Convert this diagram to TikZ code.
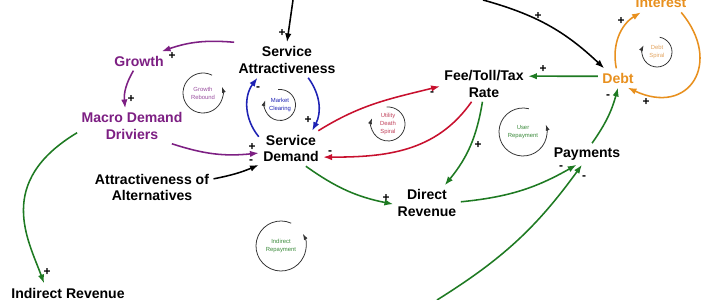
\documentclass[tikz,border=0pt]{standalone}
\usepackage{fontspec}
\setmainfont{Liberation Sans}
\usepackage{tikz}
\usetikzlibrary{arrows.meta,calc}
\definecolor{plum}{HTML}{7D1F83}
\definecolor{plumpale}{HTML}{9A4FA0}
\definecolor{royal}{HTML}{1E22B4}
\definecolor{crimson}{HTML}{C8102E}
\definecolor{crimsonpale}{HTML}{C0405A}
\definecolor{forest}{HTML}{1E7A22}
\definecolor{forestpale}{HTML}{3A8A3A}
\definecolor{ochre}{HTML}{E8901E}
\definecolor{ochrepale}{HTML}{E3A45F}
\definecolor{loopgray}{HTML}{333333}
\tikzset{
  >={Latex[length=2.2mm,width=1.6mm]},
  var/.style={font=\bfseries\fontsize{10}{11.5}\selectfont, align=center, inner sep=3pt},
  sign/.style={font=\bfseries\fontsize{8.5}{8.5}\selectfont, inner sep=0pt},
  link/.style={->, line width=1.1pt},
  looptext/.style={font=\fontsize{4.2}{5.8}\selectfont, align=center, inner sep=0pt},
  loopline/.style={-{Latex[length=1.5mm,width=1mm]}, line width=.55pt, color=loopgray}
}
\begin{document}
\begin{tikzpicture}[x=0.025cm,y=0.025cm]
  \useasboundingbox[fill=white] (0,-300) rectangle (710,0);

  % variables
  \node[var] (sa) at (287,-60) {Service\\Attractiveness};
  \node[var,text=plum] (growth) at (139,-61) {Growth};
  \node[var,text=plum] (macro) at (132,-126) {Macro Demand\\Driviers};
  \node[var] (sd) at (291,-148.5) {Service\\Demand};
  \node[var] (alt) at (152,-187.5) {Attractiveness of\\Alternatives};
  \node[var] (inrev) at (68,-293) {Indirect Revenue};
  \node[var] (fee) at (484,-84) {Fee/Toll/Tax\\Rate};
  \node[var,text=ochre] (debt) at (618,-78) {Debt};
  \node[var,text=ochre] (interest) at (661,-3) {Interest};
  \node[var] (pay) at (587,-154) {Payments};
  \node[var] (dirrev) at (427,-203) {Direct\\Revenue};

  % free ends at the picture border
  \coordinate (srcA) at (293,0);
  \coordinate (srcB) at (483,0);
  \coordinate (srcC) at (437,-300);

  % links
  \draw[link] (srcA) -- (sa.north);
  \draw[link] (srcB) to[bend left=14] (debt.145);
  \draw[link,plum] (sa.north west) to[bend right=12] (growth.23);
  \draw[link,plum] (growth.240) to[bend right=18] (macro.111);
  \draw[link,plum] (macro.336) to[bend right=12] (sd.188);
  \draw[link,forest] (macro.187) to[out=211,in=110,out looseness=1.6,in looseness=.76] (inrev.158);
  \draw[link] (alt.8) to[bend right=6] (sd.207);
  \draw[link,royal] (sd.160) to[bend left=38] (sa.211);
  \draw[link,royal] (sa.320) to[bend left=32] (sd.40);
  \draw[link,crimson] (sd.33) to[out=32,in=194] (fee.183);
  \draw[link,crimson] (fee.235) to[out=235,in=0] (sd.345);
  \draw[link,forest] (sd.310) to[bend right=12] (dirrev.182);
  \draw[link,forest] (fee.265) to[bend left=15] (dirrev.45);
  \draw[link,forest] (dirrev.2) to[bend right=12] (pay.226);
  \draw[link,forest] (srcC) to[bend right=11] (pay.245);
  \draw[link,forest] (pay.65) to[bend right=10] (debt.south);
  \draw[link,forest] (debt.175) -- (fee.10);
  \draw[link,ochre] (debt.100) to[bend left=35] (interest.205);
  \draw[link,ochre] (interest.335) to[out=-50,in=-25,out looseness=1.8,in looseness=1.9] (debt.315);

  % polarities
  \foreach \i/\x/\y/\s in {1/282/33/+, 2/538/16/+, 3/172/56/+, 4/131/99/+, 5/252/147/+,
      6/47/272/+, 7/251/162/-, 8/258/89/-, 9/308/120/+, 10/432/94/-, 11/330/153/-,
      12/386/198/+, 13/478/145/+, 14/561/168/-, 15/584/178/-, 16/608/97/-,
      17/543/69/+, 18/621/21/+, 19/646/102/+}
    \node[sign] (s\i) at (\x,-\y) {\s};

  % loop markers
  \foreach \n/\x/\y/\r/\sa/\ea/\col/\txt in {
      gr/203/93/20/63/378/plumpale/{Growth\\Rebound},
      mc/280/105/15.5/97/-198/royal/{Market\\Clearing},
      uds/388/124/17/95/-200/crimsonpale/{Utility\\Death\\Spiral},
      ur/523/132/24/76/378/forestpale/{User\\Repayment},
      ds/657/52/15/80/-207/ochrepale/{Debt\\Spiral},
      ir/281/246/25/66/389/forestpale/{Indirect\\Repayment}}{
    \node[looptext,text=\col] (\n) at (\x,-\y) {\txt};
    \draw[loopline] ([shift={(\sa:\r)}]\n.center) arc[start angle=\sa,end angle=\ea,radius=\r];
  }
\end{tikzpicture}
\end{document}
